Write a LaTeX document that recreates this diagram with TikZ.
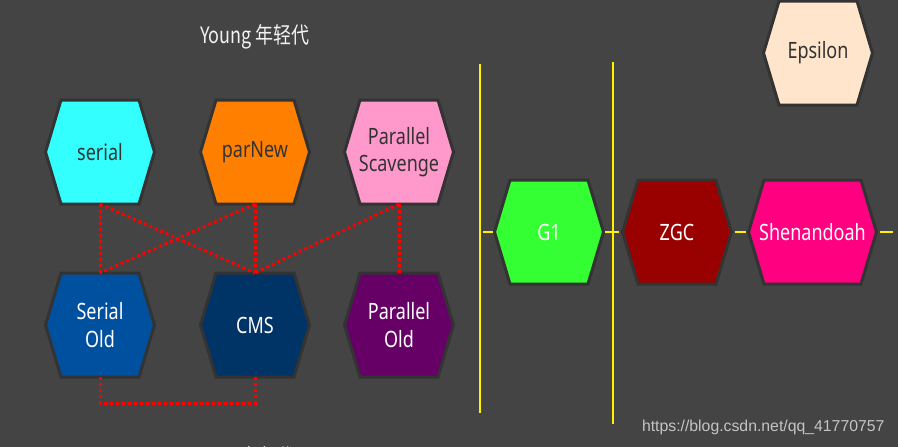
\documentclass[tikz,border=0pt]{standalone}
\usepackage{fontspec}
\setmainfont{Noto Sans}[FakeStretch=0.8]
\newfontfamily\cjk{Noto Sans CJK SC}[FakeStretch=0.8]
\newfontfamily\urlfont{Liberation Sans}
\pgfdeclarelayer{background}
\pgfsetlayers{background,main}
\definecolor{bgray}{HTML}{444444}
\definecolor{hexline}{HTML}{333333}
\definecolor{darktext}{HTML}{333333}
\definecolor{titlewhite}{HTML}{F2F2F2}
\definecolor{urlgray}{HTML}{C4C4C4}
\definecolor{cserial}{HTML}{33FFFF}
\definecolor{cparnew}{HTML}{FF8000}
\definecolor{cpscav}{HTML}{FF99CC}
\definecolor{csold}{HTML}{0050A0}
\definecolor{ccms}{HTML}{003366}
\definecolor{cpold}{HTML}{660066}
\definecolor{cepsilon}{HTML}{FFE5CC}
\definecolor{cgone}{HTML}{33FF33}
\definecolor{czgc}{HTML}{990000}
\definecolor{cshen}{HTML}{FF0080}
\tikzset{
	gc/.style={minimum width=109pt, minimum height=104pt, inner sep=0pt, outer sep=0pt,
		align=center, font=\fontsize{22.5}{27.6}\selectfont},
	dk/.style={text=darktext},
	lt/.style={text=white},
	pair/.style={draw=red, line width=3pt, dash pattern=on 3pt off 3pt},
	sep/.style={draw=yellow, line width=2.5pt},
}
\begin{document}
\begin{tikzpicture}[x=1pt, y=-1pt]
	\useasboundingbox (0,0) rectangle (898,447);

	\node[font=\cjk\fontsize{22.5}{26}\selectfont, text=titlewhite] (young) at (255,37) {Young 年轻代};
	\node[font=\cjk\fontsize{22.5}{26}\selectfont, text=titlewhite] (old) at (252,457) {Old 老年代};

	\node[gc,dk] (serial) at (100,152) {serial};
	\node[gc,dk] (parnew) at (255,152) {parNew};
	\node[gc,dk] (pscav) at (399,152) {Parallel\\Scavenge};
	\node[gc,lt] (sold) at (100,325) {Serial\\Old};
	\node[gc,lt] (cms) at (255,325) {CMS};
	\node[gc,lt] (pold) at (399,325) {Parallel\\Old};
	\node[gc,dk] (epsilon) at (818,53) {Epsilon};
	\node[gc,lt] (g1) at (549,232) {G1};
	\node[gc,lt] (zgc) at (677,232) {ZGC};
	\node[gc,lt,minimum width=128pt] (shen) at (812.5,232) {Shenandoah};

	\node[font=\urlfont\fontsize{15.8}{19}\selectfont, text=urlgray, anchor=east] (url) at (888,427) {https://blog.csdn.net/qq\_41770757};

	\begin{pgfonlayer}{background}
		\fill[bgray] (0,0) rectangle (898,447);
		\foreach \n/\c in {serial/cserial, parnew/cparnew, pscav/cpscav, sold/csold, cms/ccms,
				pold/cpold, epsilon/cepsilon, g1/cgone, zgc/czgc, shen/cshen}
			\draw[hexline, line width=3pt, fill=\c] (\n.west) -- ([xshift=15.5pt]\n.north west)
				-- ([xshift=-15.5pt]\n.north east) -- (\n.east) -- ([xshift=-15.5pt]\n.south east)
				-- ([xshift=15.5pt]\n.south west) -- cycle;
	\end{pgfonlayer}

	\draw[pair] (serial.south) -- (sold.north);
	\draw[pair] (serial.south) -- (cms.north);
	\draw[pair] (parnew.south) -- (sold.north);
	\draw[pair] (parnew.south) -- (cms.north);
	\draw[pair] (pscav.south) -- (cms.north);
	\draw[pair] (pscav.south) -- (pold.north);
	\draw[pair] (sold.south) -- ++(0,26) -| (cms.south);

	\coordinate (top1) at (480,64);
	\coordinate (bot1) at (480,413);
	\coordinate (top2) at (613,62);
	\coordinate (bot2) at (613,424);
	\coordinate (lend) at (483,232);
	\coordinate (rend) at (893,232);
	\draw[sep] (top1) -- (bot1);
	\draw[sep] (top2) -- (bot2);
	\draw[sep] (lend) -- ([xshift=-2pt]g1.west);
	\draw[sep, shorten <=1pt, shorten >=4pt] (g1.east) -- (zgc.west);
	\draw[sep, shorten <=3pt, shorten >=3pt] (zgc.east) -- (shen.west);
	\draw[sep, shorten <=3pt] (shen.east) -- (rend);
\end{tikzpicture}
\end{document}
